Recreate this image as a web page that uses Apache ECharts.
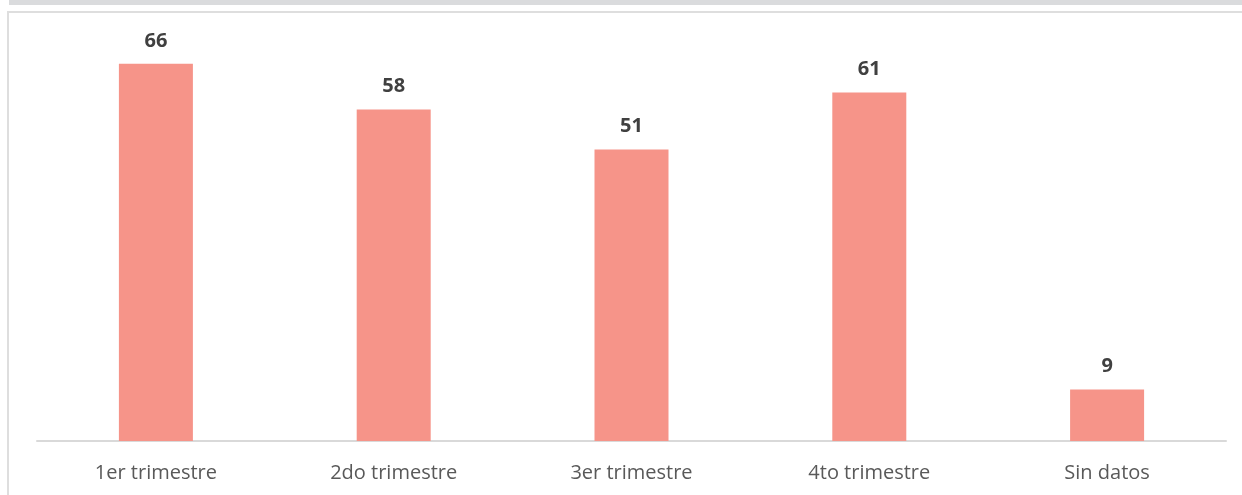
<!DOCTYPE html>
<html>
	<head>
		<meta charset="utf-8" />
		<title>Trimestres</title>
		<script type="text/javascript" src="https://cdn.jsdelivr.net/npm/echarts@6/dist/echarts.min.js"></script>
		<style>
			body { margin: 0; background: #fff; }
			#band { position: absolute; left: 9px; top: 0; width: 1233px; height: 5px; background: #dadbdd; }
			#box { position: absolute; left: 7px; top: 11px; width: 1240px; height: 490px; border: 2px solid #dedede; box-sizing: border-box; }
			#main { position: absolute; left: 0; top: 0; width: 1242px; height: 495px; }
		</style>
		<script type="text/javascript">
		var categories = ['1er trimestre', '2do trimestre', '3er trimestre', '4to trimestre', 'Sin datos'];
		var values = [66, 58, 51, 61, 9];
		var myChart;

		var option = {
			animation: false,
			textStyle: { fontFamily: 'Open Sans' },
			grid: { left: 37, right: 16, top: 41, bottom: 54 },
			xAxis: {
				type: 'category',
				data: categories,
				axisTick: { show: false },
				axisLine: { lineStyle: { color: '#d9d9d9', width: 2 } },
				axisLabel: { color: '#595959', fontSize: 20, margin: 22, fontFamily: 'Open Sans' }
			},
			yAxis: {
				type: 'value',
				min: 0,
				max: 70,
				show: false
			},
			series: [{
				type: 'bar',
				data: values,
				barWidth: 74,
				itemStyle: { color: '#f69489' },
				label: {
					show: true,
					position: 'top',
					distance: 13,
					color: '#404040',
					fontSize: 20,
					fontWeight: 'bold',
					fontFamily: 'Open Sans'
				}
			}]
		};

		window.onload = function(){
			myChart = echarts.init(document.getElementById('main'));
			myChart.setOption(option);
		}
		</script>
	</head>
	<body>
		<div id="band"></div>
		<div id="box"></div>
		<div id="main"></div>
	</body>
</html>
